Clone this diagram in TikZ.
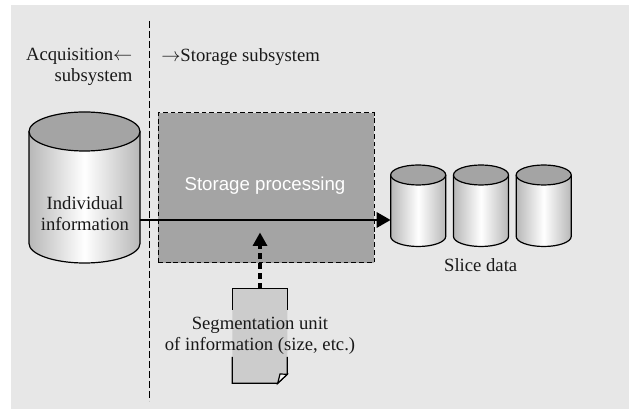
\documentclass[tikz,border=0pt]{standalone}
\usepackage{fontspec}
\setmainfont{Liberation Serif}
\newfontfamily\labelsans{Liberation Sans}
\usepackage{tikz}
\usetikzlibrary{arrows.meta}
\usetikzlibrary{positioning}
\usetikzlibrary{calc}
\definecolor{panelgray}{gray}{0.905}
\definecolor{procgray}{gray}{0.645}
\definecolor{notegray}{gray}{0.8}
\newcommand{\drum}[6]{% name, left, right, top, bottom, flat radius
	\coordinate (#1) at ({(#2+#3)/2},{(#4+#5)/2});
	\path[left color=black!28, right color=black!28, middle color=white] (#2,#4) -- (#2,#5) arc[start angle=180, end angle=0, x radius={(#3-#2)/2}, y radius=#6] -- (#3,#4) -- cycle;
	\draw[line width=0.9pt] (#2,#4) -- (#2,#5) arc[start angle=180, end angle=0, x radius={(#3-#2)/2}, y radius=#6] -- (#3,#4);
	\draw[line width=0.9pt, fill=procgray] ({(#2+#3)/2},#4) ellipse[x radius={(#3-#2)/2}, y radius=#6];
}
\begin{document}
\begin{tikzpicture}[x=0.75pt, y=-0.75pt, txt/.style = {font=\fontsize{14}{15.6}\selectfont, text=black!90, inner sep=0pt, align=center}, flow/.style = {line width=2.2pt, -{Triangle[length=10.5pt, width=11.25pt]}}]
	\useasboundingbox (0,0) rectangle (629,409);
	\fill[white] (0,0) rectangle (629,409);
	\fill[panelgray] (11,5) rectangle (629,409);
	% dashed divider and processing box
	\coordinate (cuttop) at (149.3,21);
	\coordinate (cutbot) at (149.3,401);
	\draw[line width=0.75pt, dash pattern=on 5pt off 2.5pt] (cuttop) -- (cutbot);
	\node[draw, line width=0.75pt, dash pattern=on 3.6pt off 2.2pt, fill=procgray, minimum width=162pt, minimum height=112.5pt, inner sep=0pt, anchor=north west] (proc) at (157.5,112.5) {};
	\node[font=\fontsize{14}{16}\labelsans\selectfont, text=white, inner sep=0pt] (proclabel) at (265,185.5) {Storage processing};
	\drum{indiv}{29}{140}{131.5}{243.5}{19.5}
	\drum{sliceA}{390.7}{445.7}{175}{236.5}{10}
	\drum{sliceB}{453.5}{508.5}{175}{236.5}{10}
	\drum{sliceC}{516.2}{571.2}{175}{236.5}{10}
	\coordinate (indivright) at (140,220);
	\coordinate (sliceleft) at (390.7,220);
	\draw[flow] (indivright) -- (sliceleft);
	% note sheet
	\coordinate (nw) at (232.3,288.7);
	\coordinate (ne) at (287.3,288.7);
	\coordinate (se) at (287.3,374.3);
	\coordinate (sw) at (232.3,383.3);
	\coordinate (sb) at (277.7,383.3);
	\coordinate (fold) at (280,374);
	\fill[notegray] (nw) -- (ne) -- (se) -- (sb) -- (sw) -- cycle;
	\draw[line width=0.9pt] (232.3,310) -- (nw) -- (ne) -- (287.3,310);
	\draw[line width=0.9pt] (232.3,357) -- (sw) -- (sb) -- (se) -- (287.3,357);
	\draw[line width=0.9pt, fill=panelgray!40!white] (sb) -- (fold) -- (se) -- cycle;
	\coordinate (notetop) at (260,288.7);
	\coordinate (notetip) at (260,245);
	\draw[line width=2.4pt, dash pattern=on 4.5pt off 3pt] (notetop) -- (notetip);
	\fill (260,232.7) -- (267.5,246) -- (252.5,246) -- cycle;
	% labels
	\node[txt, align=right, anchor=north east] (acq) at (132.7,48) {Acquisition$\leftarrow$\\subsystem};
	\node[txt, anchor=north west] (stor) at (161,48) {$\rightarrow$Storage subsystem};
	\node[txt] (indivtext) at (85,214) {Individual\\information};
	\node[txt] (slicetext) at (480.7,265) {Slice data};
	\node[txt] (seg) at (260,336) {Segmentation unit\\of information (size, etc.)};
\end{tikzpicture}
\end{document}
